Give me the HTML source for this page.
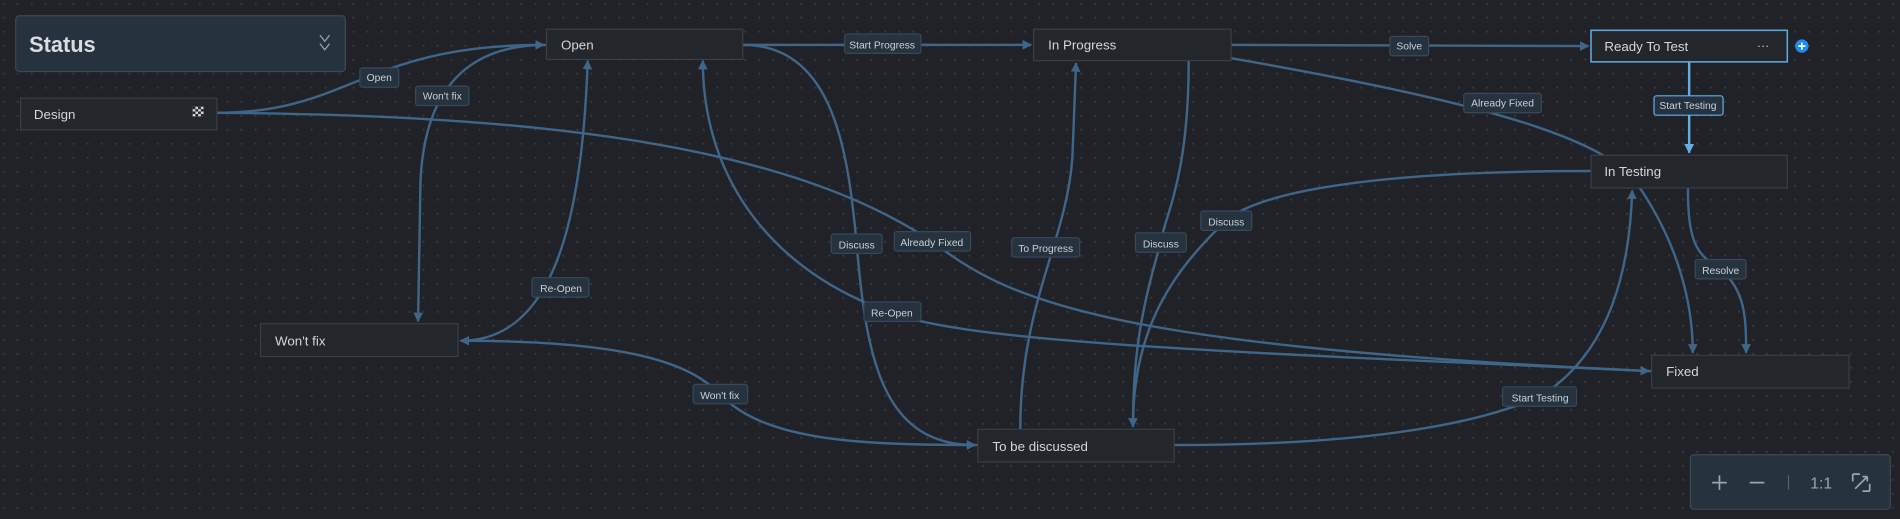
<!DOCTYPE html>
<html><head><meta charset="utf-8"><style>
html,body{margin:0;padding:0;background:#202227;overflow:hidden}
svg{display:block}
text{font-family:"Liberation Sans",sans-serif}
.n{fill:#23262b;stroke:#3a3e45;stroke-width:1}
.nt{fill:#d3d7dc;font-size:11px}
.e{fill:none;stroke:#3f6588;stroke-width:2}
.l{fill:#26323e;stroke:#36495b;stroke-width:1}
.lt{fill:#c9d1d9;font-size:8.5px;text-anchor:middle}
</style></head><body>
<svg width="1900" height="519" viewBox="0 0 1568 428" preserveAspectRatio="none">
<defs>
<pattern id="g" width="11.55" height="11.55" patternUnits="userSpaceOnUse"><circle cx="3" cy="3" r="0.9" fill="#353a43"/></pattern>
<marker id="a" viewBox="0 0 10 10" refX="9" refY="5" markerWidth="4" markerHeight="4" orient="auto"><path d="M0,0L10,5L0,10z" fill="#3f6588"/></marker>
<marker id="b" viewBox="0 0 10 10" refX="9" refY="5" markerWidth="4" markerHeight="4" orient="auto"><path d="M0,0L10,5L0,10z" fill="#62aee6"/></marker>
</defs>
<rect width="1568" height="428" fill="#202227"/>
<rect width="1568" height="428" fill="url(#g)"/>

<!-- edges -->
<path class="e" d="M179,93 C290,93 300,37 449,37" marker-end="url(#a)"/>
<path class="e" d="M179,93 C450,95 650,120 769,199 C830,245 900,285 1361,306" marker-end="url(#a)"/>
<path class="e" d="M1363,306 C1000,290 800,282 736,258 C640,225 580,150 580,50" marker-end="url(#a)"/>
<path class="e" d="M613,37 C690,37 700,130 707,201 C715,300 730,367 805,367" marker-end="url(#a)"/>
<path class="e" d="M807,367 C700,367 630,362 594,325 C570,300 520,281 380,281" marker-end="url(#a)"/>
<path class="e" d="M380,281 C450,281 480,200 485,50" marker-end="url(#a)"/>
<path class="e" d="M451,37 C380,37 350,80 347,150 L345,265" marker-end="url(#a)"/>
<path class="e" d="M613,37 L851,37" marker-end="url(#a)"/>
<path class="e" d="M842,354 C842,250 880,200 885,130 L888,52" marker-end="url(#a)"/>
<path class="e" d="M981,50 C981,150 960,180 958,200 C940,260 935,300 935,352" marker-end="url(#a)"/>
<path class="e" d="M1313,141 C1100,141 1030,165 1012,182 C960,230 935,280 935,352"/>
<path class="e" d="M1016,37 L1311,38" marker-end="url(#a)"/>
<path class="e" d="M1016,48 C1200,80 1320,110 1350,150 C1385,200 1397,250 1397,291" marker-end="url(#a)"/>
<path class="e" d="M1393,155 C1393,200 1400,210 1420,222 C1440,240 1441,260 1441,291" marker-end="url(#a)"/>
<path class="e" d="M969,367 C1150,367 1230,345 1271,327 C1330,290 1345,220 1347,157" marker-end="url(#a)"/>
<path d="M1394,51 L1394,126" fill="none" stroke="#62aee6" stroke-width="2" marker-end="url(#b)"/>

<!-- status panel -->
<rect x="13" y="13" width="272" height="46" rx="3" fill="#26323d" stroke="#3b4a57"/>
<text x="24" y="43" fill="#d9dde2" font-size="18" font-weight="bold">Status</text>
<path d="M264,29 l4,5 l4,-5 M264,36 l4,5 l4,-5" fill="none" stroke="#9aa6b2" stroke-width="1"/>

<!-- nodes -->
<rect class="n" x="17" y="81" width="162" height="26"/><text class="nt" x="28" y="98">Design</text>
<rect x="159" y="88" width="9" height="8" fill="#cfd3d8"/><path d="M159,88h2.25v2h-2.25zM163.5,88h2.25v2h-2.25zM161.25,90h2.25v2h-2.25zM165.75,90h2.25v2h-2.25zM159,92h2.25v2h-2.25zM163.5,92h2.25v2h-2.25zM161.25,94h2.25v2h-2.25zM165.75,94h2.25v2h-2.25z" fill="#23262b"/>
<rect class="n" x="451" y="24" width="162" height="25"/><text class="nt" x="463" y="41">Open</text>
<rect class="n" x="853" y="24" width="163" height="26"/><text class="nt" x="865" y="41">In Progress</text>
<rect x="1313" y="25" width="162" height="26" fill="#23262b" stroke="#5ea6dc" stroke-width="1.3"/><text class="nt" x="1324" y="42">Ready To Test</text>
<text x="1455" y="41" fill="#c9d1d9" font-size="10" text-anchor="middle">···</text>
<circle cx="1487" cy="38" r="5.5" fill="#1f8cf0"/><path d="M1484,38h6M1487,35v6" stroke="#fff" stroke-width="1.3"/>
<rect class="n" x="1313" y="128" width="162" height="27"/><text class="nt" x="1324" y="145">In Testing</text>
<rect class="n" x="215" y="267" width="163" height="27"/><text class="nt" x="227" y="285">Won't fix</text>
<rect class="n" x="1363" y="293" width="163" height="27"/><text class="nt" x="1375" y="310">Fixed</text>
<rect class="n" x="807" y="354" width="162" height="27"/><text class="nt" x="819" y="372">To be discussed</text>

<!-- labels -->
<rect class="l" x="297" y="56" width="32" height="16" rx="2"/><text class="lt" x="313" y="67">Open</text>
<rect class="l" x="343" y="71" width="44" height="16" rx="2"/><text class="lt" x="365" y="82">Won't fix</text>
<rect class="l" x="697" y="28" width="63" height="16" rx="2"/><text class="lt" x="728" y="40">Start Progress</text>
<rect class="l" x="1147" y="30" width="32" height="16" rx="2"/><text class="lt" x="1163" y="41">Solve</text>
<rect class="l" x="1208" y="77" width="64" height="16" rx="2"/><text class="lt" x="1240" y="88">Already Fixed</text>
<rect x="1365" y="79" width="57" height="16" rx="2" fill="#26323e" stroke="#62aee6"/><text class="lt" x="1393" y="90">Start Testing</text>
<rect class="l" x="686" y="193" width="42" height="16" rx="2"/><text class="lt" x="707" y="205">Discuss</text>
<rect class="l" x="738" y="191" width="63" height="16" rx="2"/><text class="lt" x="769" y="203">Already Fixed</text>
<rect class="l" x="835" y="196" width="56" height="16" rx="2"/><text class="lt" x="863" y="208">To Progress</text>
<rect class="l" x="937" y="192" width="42" height="16" rx="2"/><text class="lt" x="958" y="204">Discuss</text>
<rect class="l" x="991" y="174" width="42" height="16" rx="2"/><text class="lt" x="1012" y="186">Discuss</text>
<rect class="l" x="439" y="229" width="47" height="16" rx="2"/><text class="lt" x="463" y="241">Re-Open</text>
<rect class="l" x="713" y="249" width="47" height="16" rx="2"/><text class="lt" x="736" y="261">Re-Open</text>
<rect class="l" x="1399" y="214" width="42" height="16" rx="2"/><text class="lt" x="1420" y="226">Resolve</text>
<rect class="l" x="572" y="317" width="45" height="16" rx="2"/><text class="lt" x="594" y="329">Won't fix</text>
<rect class="l" x="1240" y="319" width="61" height="16" rx="2"/><text class="lt" x="1271" y="331">Start Testing</text>

<!-- zoom control -->
<rect x="1395" y="375" width="165" height="45" rx="3" fill="#26323d" stroke="#3b4a57"/>
<path d="M1413,398h12M1419,392v12M1444,398h12" stroke="#9aa6b2" stroke-width="1.4"/>
<path d="M1476,392v12" stroke="#55606b" stroke-width="1"/>
<text x="1503" y="403" fill="#9aa6b2" font-size="13" text-anchor="middle">1:1</text>
<path d="M1529,391h6M1529,391v6M1543,405h-6M1543,405v-6M1531,403l10,-10M1541,393h-4M1541,393v4" fill="none" stroke="#9aa6b2" stroke-width="1.4"/>
</svg>
</body></html>
